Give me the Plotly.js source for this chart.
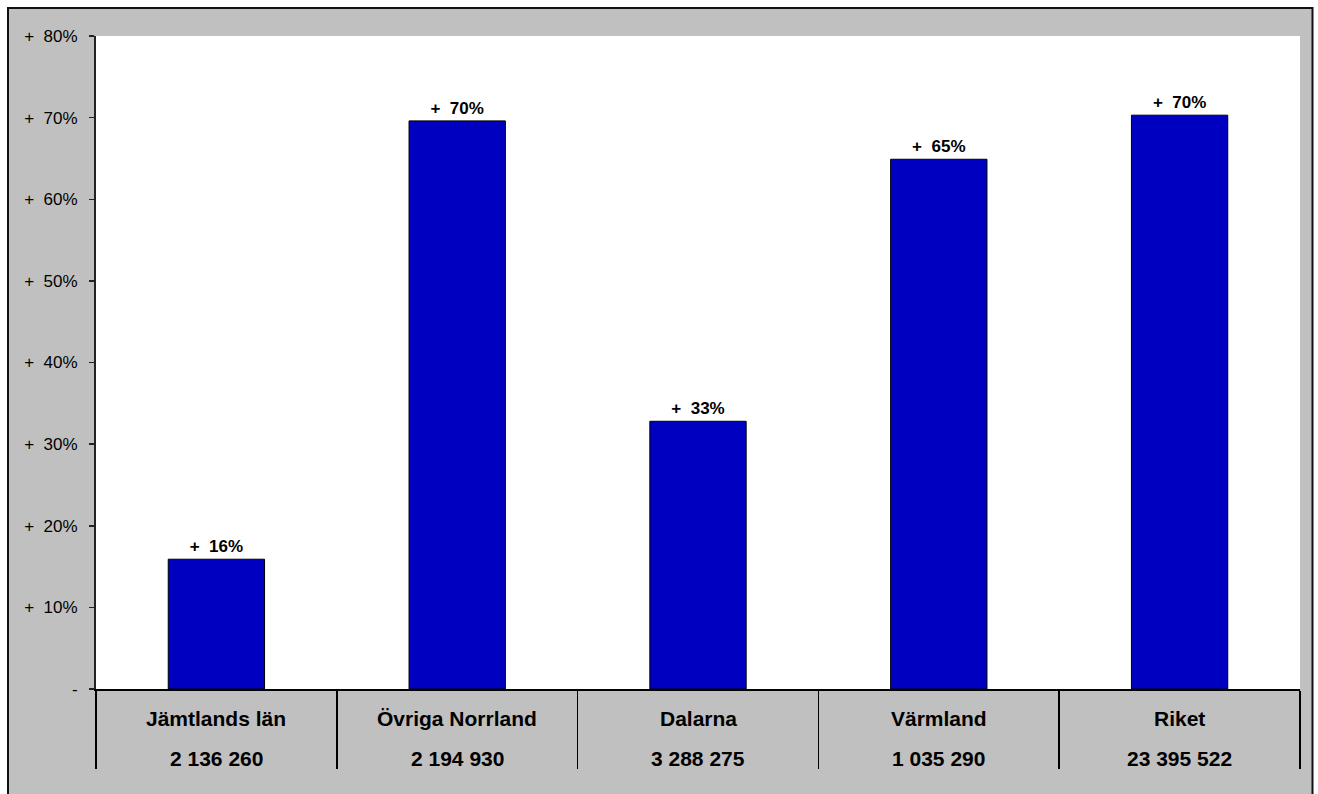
<!DOCTYPE html>
<html>
<head>
<meta charset="utf-8">
<script src="https://cdn.plot.ly/plotly-3.0.1.min.js"></script>
<style>
  html, body { margin: 0; padding: 0; background: #ffffff; overflow: hidden; }
  #chart { width: 1318px; height: 830px; }
</style>
</head>
<body>
<div id="chart"></div>
<script>
// ---- data ----
const categories = ["Jämtlands län", "Övriga Norrland", "Dalarna", "Värmland", "Riket"];
const populations = ["2 136 260", "2 194 930", "3 288 275", "1 035 290", "23 395 522"];
const changePct = [15.9, 69.6, 32.8, 64.9, 70.3];
const yTickValues = [0, 10, 20, 30, 40, 50, 60, 70, 80];
const yTickLabels = ["-", "+\u00a0\u00a010%", "+\u00a0\u00a020%", "+\u00a0\u00a030%", "+\u00a0\u00a040%",
                     "+\u00a0\u00a050%", "+\u00a0\u00a060%", "+\u00a0\u00a070%", "+\u00a0\u00a080%"];
const barLabels = changePct.map(v => "+\u00a0\u00a0" + Math.round(v) + "%");

const FONT = 'Arial, "Liberation Sans", sans-serif';

const trace = {
  type: "bar",
  x: categories,
  y: changePct,
  width: 0.4,
  marker: { color: "#0000C0", line: { color: "#000000", width: 1 } },
  text: barLabels,
  textposition: "outside",
  cliponaxis: false,
  textfont: { family: FONT, size: 17, color: "#000000", weight: "bold" },
  hoverinfo: "none"
};

const annotations = [];
categories.forEach((c, i) => {
  annotations.push({
    x: c, xref: "x", y: 0, yref: "paper", yanchor: "middle", yshift: -29,
    text: "<b>" + c + "</b>", showarrow: false,
    font: { family: FONT, size: 21, color: "#000000" }
  });
  annotations.push({
    x: c, xref: "x", y: 0, yref: "paper", yanchor: "middle", yshift: -69,
    text: "<b>" + populations[i] + "</b>", showarrow: false,
    font: { family: FONT, size: 21, color: "#000000" }
  });
});

const fx0 = -88 / 1204, fx1 = 1216.5 / 1204, fyTop = 681 / 653, fyBot = -0.3;

const layout = {
  width: 1318, height: 830,
  margin: { l: 96, r: 18, t: 36, b: 141, pad: 0 },
  paper_bgcolor: "#ffffff",
  plot_bgcolor: "rgba(0,0,0,0)",
  showlegend: false,
  font: { family: FONT, color: "#000000" },
  xaxis: {
    type: "category",
    range: [-0.5, categories.length - 0.5],
    showline: true, linecolor: "#000000", linewidth: 1.5,
    ticks: "outside", tickson: "boundaries", ticklen: 78, tickwidth: 1.5, tickcolor: "#000000",
    showticklabels: false, showgrid: false, zeroline: false, fixedrange: true
  },
  yaxis: {
    range: [0, 80],
    tickvals: yTickValues, ticktext: yTickLabels,
    tickfont: { family: FONT, size: 17, color: "#000000" },
    showline: true, linecolor: "#222222", linewidth: 2,
    ticks: "outside", ticklen: 5, tickwidth: 1.5, tickcolor: "#222222",
    ticklabelstandoff: 8,
    showgrid: false, zeroline: false, fixedrange: true
  },
  shapes: [
    { type: "rect", xref: "paper", yref: "paper", layer: "below",
      x0: fx0, x1: fx1, y0: fyBot, y1: fyTop,
      fillcolor: "#C0C0C0", line: { color: "#111111", width: 2 } },
    { type: "rect", xref: "paper", yref: "paper", layer: "below",
      x0: 0, x1: 1, y0: 0, y1: 1,
      fillcolor: "#ffffff", line: { width: 0 } }
  ],
  annotations: annotations
};

Plotly.newPlot("chart", [trace], layout, { displayModeBar: false, staticPlot: true });
</script>
</body>
</html>
